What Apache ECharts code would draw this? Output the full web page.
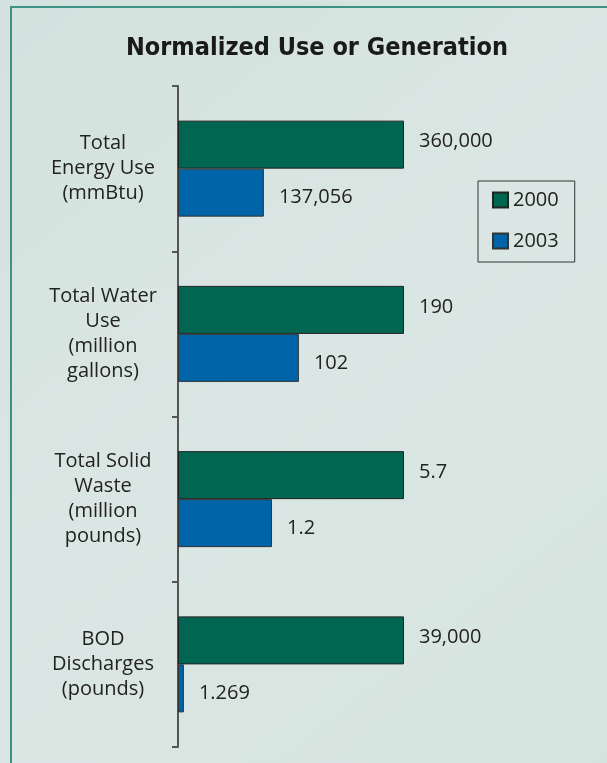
<!DOCTYPE html>
<html>
<head>
<meta charset="utf-8">
<script src="https://cdn.jsdelivr.net/npm/echarts@6/dist/echarts.min.js"></script>
<style>
  html, body { margin: 0; padding: 0; background: #d8e5e1; }
  #chart { width: 607px; height: 763px; }
</style>
</head>
<body>
<div id="chart"></div>
<script>
// categories, top to bottom
let categories = [
  'Total\nEnergy Use\n(mmBtu)',
  'Total Water\nUse\n(million\ngallons)',
  'Total Solid\nWaste\n(million\npounds)',
  'BOD\nDischarges\n(pounds)'
];
let norm2000 = [1, 1, 1, 1];
let norm2003 = [0.38, 0.535, 0.416, 0.026];
// printed values
let labels2000 = ['360,000', '190', '5.7', '39,000'];
let labels2003 = ['137,056', '102', '1.2', '1.269'];

let chart = echarts.init(document.getElementById('chart'), null, { renderer: 'canvas' });

let valueLabel = (texts, dy) => ({
  show: true,
  position: 'right',
  distance: 15,
  offset: [0, dy],
  color: '#222',
  fontSize: 20,
  fontFamily: 'Open Sans',
  formatter: p => texts[p.dataIndex]
});

let option = {
  animation: false,
  backgroundColor: {
    type: 'linear', x: 0, y: 0, x2: 1, y2: 1,
    colorStops: [
      { offset: 0, color: '#d3e2de' },
      { offset: 0.5, color: '#dae6e3' },
      { offset: 1, color: '#d6e4e0' }
    ]
  },
  graphic: [{
    type: 'rect',
    shape: { x: 11, y: 7, width: 700, height: 800 },
    style: { fill: 'none', stroke: '#3d9285', lineWidth: 2 }
  }],
  title: {
    text: 'Normalized Use or Generation',
    left: 121,
    top: 31,
    textStyle: {
      fontFamily: '"Liberation Sans Narrow", "DejaVu Sans Condensed", sans-serif',
      fontWeight: 'bold',
      fontSize: 25,
      color: '#1a1a1a'
    }
  },
  legend: {
    orient: 'vertical',
    left: 478,
    top: 181,
    padding: [9, 16, 11, 14],
    itemGap: 21,
    itemWidth: 15,
    itemHeight: 15,
    borderColor: '#333',
    borderWidth: 1,
    icon: 'rect',
    textStyle: { fontSize: 20, color: '#222', fontFamily: 'Open Sans' },
    data: ['2000', '2003']
  },
  grid: { left: 178, top: 86, width: 226, bottom: 16, containLabel: false },
  xAxis: {
    type: 'value',
    min: 0,
    max: 1,
    show: false
  },
  yAxis: {
    type: 'category',
    inverse: true,
    data: categories,
    axisLine: { show: true, lineStyle: { color: '#555', width: 2 } },
    axisTick: { show: true, length: 6, lineStyle: { color: '#555', width: 2 } },
    axisLabel: {
      align: 'center',
      margin: 75,
      color: '#222',
      fontSize: 20,
      lineHeight: 25,
      fontFamily: 'Open Sans'
    }
  },
  series: [
    {
      name: '2000',
      type: 'bar',
      barWidth: 48,
      barGap: '0%',
      data: norm2000,
      itemStyle: { color: '#006651', borderColor: '#222', borderWidth: 1 },
      label: valueLabel(labels2000, -3)
    },
    {
      name: '2003',
      type: 'bar',
      barWidth: 48,
      barGap: '0%',
      data: norm2003,
      itemStyle: { color: '#0064a8', borderColor: '#333', borderWidth: 1 },
      label: valueLabel(labels2003, 5)
    }
  ]
};

chart.setOption(option);
</script>
</body>
</html>
